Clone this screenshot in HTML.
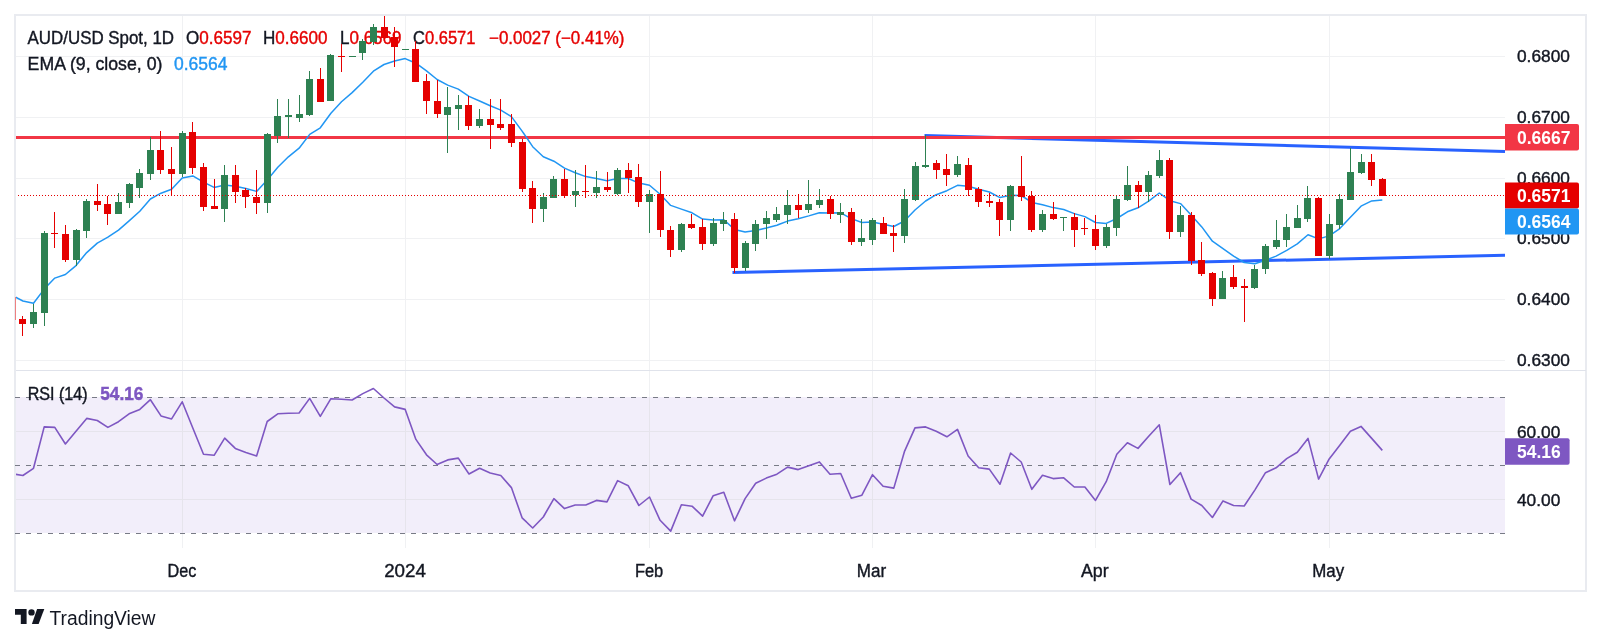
<!DOCTYPE html><html><head><meta charset="utf-8"><style>html,body{margin:0;padding:0;background:#fff;width:1601px;height:644px;overflow:hidden}svg{display:block}text{font-family:"Liberation Sans",sans-serif}svg text{will-change:opacity}</style></head><body>
<svg width="1601" height="644" viewBox="0 0 1601 644">
<rect x="0" y="0" width="1601" height="644" fill="#ffffff"/>
<rect x="15" y="15" width="1571" height="576" fill="none" stroke="#e9ebf0" stroke-width="2"/>
<rect x="16" y="370" width="1570" height="1" fill="#e0e3eb"/>
<g shape-rendering="crispEdges">
<rect x="16" y="56" width="1489" height="1" fill="#f0f1f3"/>
<rect x="16" y="117" width="1489" height="1" fill="#f0f1f3"/>
<rect x="16" y="178" width="1489" height="1" fill="#f0f1f3"/>
<rect x="16" y="238" width="1489" height="1" fill="#f0f1f3"/>
<rect x="16" y="299" width="1489" height="1" fill="#f0f1f3"/>
<rect x="16" y="360" width="1489" height="1" fill="#f0f1f3"/>
<rect x="182" y="16" width="1" height="354" fill="#f0f1f3"/>
<rect x="182" y="371" width="1" height="177" fill="#f0f1f3"/>
<rect x="405" y="16" width="1" height="354" fill="#f0f1f3"/>
<rect x="405" y="371" width="1" height="177" fill="#f0f1f3"/>
<rect x="649" y="16" width="1" height="354" fill="#f0f1f3"/>
<rect x="649" y="371" width="1" height="177" fill="#f0f1f3"/>
<rect x="872" y="16" width="1" height="354" fill="#f0f1f3"/>
<rect x="872" y="371" width="1" height="177" fill="#f0f1f3"/>
<rect x="1095" y="16" width="1" height="354" fill="#f0f1f3"/>
<rect x="1095" y="371" width="1" height="177" fill="#f0f1f3"/>
<rect x="1329" y="16" width="1" height="354" fill="#f0f1f3"/>
<rect x="1329" y="371" width="1" height="177" fill="#f0f1f3"/>
</g>
<rect x="16" y="397" width="1489" height="136" fill="#f2eefa"/>
<g shape-rendering="crispEdges">
<rect x="16" y="431" width="1489" height="1" fill="#e6e4ec"/>
<rect x="16" y="499" width="1489" height="1" fill="#e6e4ec"/>
<rect x="182" y="397" width="1" height="136" fill="#e6e4ec"/>
<rect x="405" y="397" width="1" height="136" fill="#e6e4ec"/>
<rect x="649" y="397" width="1" height="136" fill="#e6e4ec"/>
<rect x="872" y="397" width="1" height="136" fill="#e6e4ec"/>
<rect x="1095" y="397" width="1" height="136" fill="#e6e4ec"/>
<rect x="1329" y="397" width="1" height="136" fill="#e6e4ec"/>
</g>
<line x1="15" y1="397.5" x2="1505" y2="397.5" stroke="#787b86" stroke-width="1" stroke-dasharray="5 6" shape-rendering="crispEdges"/>
<line x1="15" y1="465.5" x2="1505" y2="465.5" stroke="#787b86" stroke-width="1" stroke-dasharray="5 6" shape-rendering="crispEdges"/>
<line x1="15" y1="533.5" x2="1505" y2="533.5" stroke="#787b86" stroke-width="1" stroke-dasharray="5 6" shape-rendering="crispEdges"/>
<g font-size="18">
<text x="27.6" y="43.6" fill="#131722" stroke="#131722" stroke-width="0.4" textLength="146.4" lengthAdjust="spacingAndGlyphs" >AUD/USD Spot, 1D</text>
<text x="186" y="43.6" fill="#131722" stroke="#131722" stroke-width="0.4" textLength="65.5" lengthAdjust="spacingAndGlyphs" >O<tspan fill="#e50000" stroke="#e50000">0.6597</tspan></text>
<text x="263" y="43.6" fill="#131722" stroke="#131722" stroke-width="0.4" textLength="64.5" lengthAdjust="spacingAndGlyphs" >H<tspan fill="#e50000" stroke="#e50000">0.6600</tspan></text>
<text x="340" y="43.6" fill="#131722" stroke="#131722" stroke-width="0.4" textLength="61.5" lengthAdjust="spacingAndGlyphs" >L<tspan fill="#e50000" stroke="#e50000">0.6569</tspan></text>
<text x="413" y="43.6" fill="#131722" stroke="#131722" stroke-width="0.4" textLength="62.5" lengthAdjust="spacingAndGlyphs" >C<tspan fill="#e50000" stroke="#e50000">0.6571</tspan></text>
<text x="489" y="43.6" fill="#e50000" stroke="#e50000" stroke-width="0.4" textLength="135.5" lengthAdjust="spacingAndGlyphs" >−0.0027 (−0.41%)</text>
<text x="27.6" y="69.6" fill="#131722" stroke="#131722" stroke-width="0.4" textLength="134.8" lengthAdjust="spacingAndGlyphs" >EMA (9, close, 0)</text>
<text x="174" y="69.6" fill="#2196f3" stroke="#2196f3" stroke-width="0.4" textLength="53.5" lengthAdjust="spacingAndGlyphs" >0.6564</text>
<text x="27.7" y="400" fill="#131722" stroke="#131722" stroke-width="0.4" textLength="59.8" lengthAdjust="spacingAndGlyphs" >RSI (14)</text>
<text x="100.2" y="400" fill="#7e57c2" stroke="#7e57c2" stroke-width="0.4" textLength="43.3" lengthAdjust="spacingAndGlyphs" font-weight="bold">54.16</text>
</g>
<defs><clipPath id="pp"><rect x="16" y="16" width="1489" height="354"/></clipPath><clipPath id="rp"><rect x="16" y="371" width="1489" height="177"/></clipPath></defs>
<g clip-path="url(#pp)">
<rect x="16" y="136" width="1489" height="3" fill="#f23645"/>
<line x1="924.5" y1="135.5" x2="1505" y2="151.5" stroke="#2962ff" stroke-width="3"/>
<line x1="732.5" y1="272.5" x2="1505" y2="255.2" stroke="#2962ff" stroke-width="3"/>
<rect x="16" y="136" width="1489" height="3" fill="#f23645"/>
<polyline fill="none" stroke="#2196f3" stroke-width="1.5" stroke-linejoin="round" points="12.3,295.4 22.9,301.0 33.5,303.2 44.2,289.1 54.8,278.1 65.4,274.5 76.0,265.6 86.7,252.6 97.3,243.1 107.9,237.2 118.5,230.1 129.1,220.9 139.8,211.3 150.4,199.0 161.0,193.2 171.6,189.3 182.2,178.0 192.8,175.9 203.5,182.1 214.1,187.4 224.7,184.9 235.3,186.2 245.9,188.5 256.6,191.4 267.2,180.0 277.8,167.2 288.4,156.8 299.1,148.2 309.7,134.4 320.3,127.8 330.9,113.2 341.5,101.8 352.1,92.6 362.8,82.3 373.4,71.2 384.0,64.5 394.6,61.0 405.2,58.6 415.9,63.2 426.5,70.9 437.1,79.5 447.7,85.1 458.3,89.1 469.0,96.4 479.6,101.0 490.2,105.7 500.8,110.1 511.4,116.6 522.1,131.1 532.7,146.7 543.3,156.8 553.9,161.2 564.5,168.1 575.2,172.7 585.8,176.6 596.4,178.6 607.0,180.8 617.6,178.6 628.3,178.5 638.9,183.1 649.5,185.3 660.1,194.3 670.7,205.4 681.4,209.1 692.0,212.8 702.6,219.1 713.2,219.9 723.8,219.8 734.5,229.4 745.1,232.1 755.7,230.5 766.3,228.0 776.9,225.2 787.6,221.1 798.2,218.8 808.8,215.9 819.4,212.7 830.0,213.0 840.7,212.8 851.3,218.6 861.9,222.5 872.5,222.0 883.1,224.3 893.8,226.5 904.4,221.0 915.0,210.0 925.6,201.0 936.2,194.7 946.9,190.7 957.5,185.3 968.1,186.3 978.7,189.3 989.3,192.0 1000.0,197.6 1010.6,195.3 1021.2,195.5 1031.8,202.4 1042.5,204.7 1053.1,207.6 1063.7,209.5 1074.3,213.6 1084.9,216.6 1095.5,222.5 1106.2,223.4 1116.8,218.5 1127.4,211.8 1138.0,207.8 1148.7,201.2 1159.3,193.0 1169.9,200.7 1180.5,203.6 1191.1,215.1 1201.8,226.9 1212.4,241.2 1223.0,248.6 1233.6,256.2 1244.2,262.5 1254.8,263.8 1265.5,260.2 1276.1,256.1 1286.7,250.3 1297.3,243.9 1308.0,234.7 1318.6,238.9 1329.2,235.9 1339.8,228.6 1350.4,217.3 1361.0,206.2 1371.7,200.9 1382.3,199.9"/>
<g shape-rendering="crispEdges">
<rect x="22" y="316" width="1" height="20" fill="#e50000"/>
<rect x="19" y="319" width="7" height="5" fill="#e50000"/>
<rect x="33" y="304" width="1" height="24" fill="#2e8152"/>
<rect x="30" y="312" width="7" height="12" fill="#2e8152"/>
<rect x="44" y="231" width="1" height="95" fill="#2e8152"/>
<rect x="41" y="233" width="7" height="80" fill="#2e8152"/>
<rect x="54" y="212" width="1" height="36" fill="#e50000"/>
<rect x="51" y="233" width="7" height="1" fill="#e50000"/>
<rect x="65" y="225" width="1" height="37" fill="#e50000"/>
<rect x="62" y="234" width="7" height="26" fill="#e50000"/>
<rect x="76" y="229" width="1" height="37" fill="#2e8152"/>
<rect x="73" y="230" width="7" height="30" fill="#2e8152"/>
<rect x="86" y="199" width="1" height="39" fill="#2e8152"/>
<rect x="83" y="201" width="7" height="30" fill="#2e8152"/>
<rect x="97" y="184" width="1" height="27" fill="#e50000"/>
<rect x="94" y="201" width="7" height="4" fill="#e50000"/>
<rect x="107" y="196" width="1" height="29" fill="#e50000"/>
<rect x="104" y="204" width="7" height="10" fill="#e50000"/>
<rect x="118" y="193" width="1" height="21" fill="#2e8152"/>
<rect x="115" y="202" width="7" height="12" fill="#2e8152"/>
<rect x="129" y="183" width="1" height="25" fill="#2e8152"/>
<rect x="126" y="184" width="7" height="19" fill="#2e8152"/>
<rect x="139" y="169" width="1" height="29" fill="#2e8152"/>
<rect x="136" y="173" width="7" height="15" fill="#2e8152"/>
<rect x="150" y="137" width="1" height="43" fill="#2e8152"/>
<rect x="147" y="150" width="7" height="24" fill="#2e8152"/>
<rect x="160" y="131" width="1" height="43" fill="#e50000"/>
<rect x="157" y="150" width="7" height="20" fill="#e50000"/>
<rect x="171" y="147" width="1" height="48" fill="#e50000"/>
<rect x="168" y="169" width="7" height="5" fill="#e50000"/>
<rect x="182" y="131" width="1" height="46" fill="#2e8152"/>
<rect x="179" y="133" width="7" height="41" fill="#2e8152"/>
<rect x="192" y="122" width="1" height="52" fill="#e50000"/>
<rect x="189" y="132" width="7" height="36" fill="#e50000"/>
<rect x="203" y="163" width="1" height="48" fill="#e50000"/>
<rect x="200" y="167" width="7" height="40" fill="#e50000"/>
<rect x="214" y="179" width="1" height="30" fill="#e50000"/>
<rect x="211" y="206" width="7" height="3" fill="#e50000"/>
<rect x="224" y="165" width="1" height="57" fill="#2e8152"/>
<rect x="221" y="175" width="7" height="34" fill="#2e8152"/>
<rect x="235" y="165" width="1" height="38" fill="#e50000"/>
<rect x="232" y="175" width="7" height="17" fill="#e50000"/>
<rect x="245" y="188" width="1" height="20" fill="#e50000"/>
<rect x="242" y="190" width="7" height="7" fill="#e50000"/>
<rect x="256" y="170" width="1" height="44" fill="#e50000"/>
<rect x="253" y="197" width="7" height="6" fill="#e50000"/>
<rect x="267" y="133" width="1" height="80" fill="#2e8152"/>
<rect x="264" y="134" width="7" height="69" fill="#2e8152"/>
<rect x="277" y="99" width="1" height="44" fill="#2e8152"/>
<rect x="274" y="116" width="7" height="20" fill="#2e8152"/>
<rect x="288" y="99" width="1" height="39" fill="#2e8152"/>
<rect x="285" y="115" width="7" height="2" fill="#2e8152"/>
<rect x="299" y="95" width="1" height="27" fill="#2e8152"/>
<rect x="296" y="114" width="7" height="4" fill="#2e8152"/>
<rect x="309" y="71" width="1" height="45" fill="#2e8152"/>
<rect x="306" y="79" width="7" height="36" fill="#2e8152"/>
<rect x="320" y="68" width="1" height="34" fill="#e50000"/>
<rect x="317" y="79" width="7" height="23" fill="#e50000"/>
<rect x="330" y="54" width="1" height="47" fill="#2e8152"/>
<rect x="327" y="55" width="7" height="46" fill="#2e8152"/>
<rect x="341" y="44" width="1" height="28" fill="#e50000"/>
<rect x="338" y="56" width="7" height="1" fill="#e50000"/>
<rect x="352" y="56" width="1" height="1" fill="#2e8152"/>
<rect x="349" y="56" width="7" height="1" fill="#2e8152"/>
<rect x="362" y="39" width="1" height="21" fill="#2e8152"/>
<rect x="359" y="41" width="7" height="12" fill="#2e8152"/>
<rect x="373" y="24" width="1" height="21" fill="#2e8152"/>
<rect x="370" y="27" width="7" height="15" fill="#2e8152"/>
<rect x="384" y="15" width="1" height="26" fill="#e50000"/>
<rect x="381" y="27" width="7" height="11" fill="#e50000"/>
<rect x="394" y="27" width="1" height="40" fill="#e50000"/>
<rect x="391" y="37" width="7" height="10" fill="#e50000"/>
<rect x="405" y="49" width="1" height="1" fill="#2e8152"/>
<rect x="402" y="49" width="7" height="1" fill="#2e8152"/>
<rect x="415" y="41" width="1" height="41" fill="#e50000"/>
<rect x="412" y="49" width="7" height="33" fill="#e50000"/>
<rect x="426" y="74" width="1" height="40" fill="#e50000"/>
<rect x="423" y="81" width="7" height="20" fill="#e50000"/>
<rect x="437" y="80" width="1" height="38" fill="#e50000"/>
<rect x="434" y="101" width="7" height="13" fill="#e50000"/>
<rect x="447" y="87" width="1" height="66" fill="#2e8152"/>
<rect x="444" y="107" width="7" height="8" fill="#2e8152"/>
<rect x="458" y="95" width="1" height="35" fill="#2e8152"/>
<rect x="455" y="105" width="7" height="4" fill="#2e8152"/>
<rect x="468" y="96" width="1" height="34" fill="#e50000"/>
<rect x="465" y="105" width="7" height="21" fill="#e50000"/>
<rect x="479" y="109" width="1" height="19" fill="#2e8152"/>
<rect x="476" y="119" width="7" height="7" fill="#2e8152"/>
<rect x="490" y="99" width="1" height="50" fill="#e50000"/>
<rect x="487" y="119" width="7" height="6" fill="#e50000"/>
<rect x="500" y="99" width="1" height="31" fill="#e50000"/>
<rect x="497" y="124" width="7" height="4" fill="#e50000"/>
<rect x="511" y="114" width="1" height="33" fill="#e50000"/>
<rect x="508" y="124" width="7" height="19" fill="#e50000"/>
<rect x="522" y="139" width="1" height="53" fill="#e50000"/>
<rect x="519" y="142" width="7" height="47" fill="#e50000"/>
<rect x="532" y="181" width="1" height="42" fill="#e50000"/>
<rect x="529" y="188" width="7" height="21" fill="#e50000"/>
<rect x="543" y="193" width="1" height="29" fill="#2e8152"/>
<rect x="540" y="197" width="7" height="12" fill="#2e8152"/>
<rect x="553" y="176" width="1" height="22" fill="#2e8152"/>
<rect x="550" y="179" width="7" height="19" fill="#2e8152"/>
<rect x="564" y="169" width="1" height="29" fill="#e50000"/>
<rect x="561" y="179" width="7" height="17" fill="#e50000"/>
<rect x="575" y="170" width="1" height="37" fill="#2e8152"/>
<rect x="572" y="191" width="7" height="4" fill="#2e8152"/>
<rect x="585" y="165" width="1" height="33" fill="#e50000"/>
<rect x="582" y="191" width="7" height="1" fill="#e50000"/>
<rect x="596" y="171" width="1" height="27" fill="#2e8152"/>
<rect x="593" y="187" width="7" height="6" fill="#2e8152"/>
<rect x="607" y="172" width="1" height="20" fill="#e50000"/>
<rect x="604" y="187" width="7" height="3" fill="#e50000"/>
<rect x="617" y="168" width="1" height="27" fill="#2e8152"/>
<rect x="614" y="170" width="7" height="24" fill="#2e8152"/>
<rect x="628" y="163" width="1" height="30" fill="#e50000"/>
<rect x="625" y="170" width="7" height="8" fill="#e50000"/>
<rect x="638" y="164" width="1" height="43" fill="#e50000"/>
<rect x="635" y="177" width="7" height="25" fill="#e50000"/>
<rect x="649" y="190" width="1" height="43" fill="#2e8152"/>
<rect x="646" y="194" width="7" height="8" fill="#2e8152"/>
<rect x="660" y="171" width="1" height="66" fill="#e50000"/>
<rect x="657" y="194" width="7" height="36" fill="#e50000"/>
<rect x="670" y="226" width="1" height="31" fill="#e50000"/>
<rect x="667" y="230" width="7" height="20" fill="#e50000"/>
<rect x="681" y="223" width="1" height="29" fill="#2e8152"/>
<rect x="678" y="224" width="7" height="26" fill="#2e8152"/>
<rect x="691" y="214" width="1" height="15" fill="#e50000"/>
<rect x="688" y="224" width="7" height="4" fill="#e50000"/>
<rect x="702" y="219" width="1" height="31" fill="#e50000"/>
<rect x="699" y="227" width="7" height="17" fill="#e50000"/>
<rect x="713" y="218" width="1" height="28" fill="#2e8152"/>
<rect x="710" y="223" width="7" height="21" fill="#2e8152"/>
<rect x="723" y="212" width="1" height="19" fill="#2e8152"/>
<rect x="720" y="220" width="7" height="4" fill="#2e8152"/>
<rect x="734" y="213" width="1" height="60" fill="#e50000"/>
<rect x="731" y="219" width="7" height="49" fill="#e50000"/>
<rect x="745" y="241" width="1" height="30" fill="#2e8152"/>
<rect x="742" y="243" width="7" height="25" fill="#2e8152"/>
<rect x="755" y="220" width="1" height="31" fill="#2e8152"/>
<rect x="752" y="224" width="7" height="20" fill="#2e8152"/>
<rect x="766" y="211" width="1" height="28" fill="#2e8152"/>
<rect x="763" y="218" width="7" height="6" fill="#2e8152"/>
<rect x="776" y="207" width="1" height="15" fill="#2e8152"/>
<rect x="773" y="214" width="7" height="6" fill="#2e8152"/>
<rect x="787" y="190" width="1" height="34" fill="#2e8152"/>
<rect x="784" y="205" width="7" height="10" fill="#2e8152"/>
<rect x="798" y="194" width="1" height="24" fill="#e50000"/>
<rect x="795" y="205" width="7" height="5" fill="#e50000"/>
<rect x="808" y="180" width="1" height="33" fill="#2e8152"/>
<rect x="805" y="204" width="7" height="6" fill="#2e8152"/>
<rect x="819" y="189" width="1" height="19" fill="#2e8152"/>
<rect x="816" y="200" width="7" height="5" fill="#2e8152"/>
<rect x="830" y="196" width="1" height="23" fill="#e50000"/>
<rect x="827" y="199" width="7" height="15" fill="#e50000"/>
<rect x="840" y="203" width="1" height="20" fill="#2e8152"/>
<rect x="837" y="212" width="7" height="3" fill="#2e8152"/>
<rect x="851" y="208" width="1" height="37" fill="#e50000"/>
<rect x="848" y="212" width="7" height="30" fill="#e50000"/>
<rect x="861" y="219" width="1" height="27" fill="#2e8152"/>
<rect x="858" y="238" width="7" height="4" fill="#2e8152"/>
<rect x="872" y="218" width="1" height="27" fill="#2e8152"/>
<rect x="869" y="220" width="7" height="20" fill="#2e8152"/>
<rect x="883" y="217" width="1" height="17" fill="#e50000"/>
<rect x="880" y="223" width="7" height="11" fill="#e50000"/>
<rect x="893" y="225" width="1" height="27" fill="#e50000"/>
<rect x="890" y="233" width="7" height="3" fill="#e50000"/>
<rect x="904" y="189" width="1" height="54" fill="#2e8152"/>
<rect x="901" y="199" width="7" height="37" fill="#2e8152"/>
<rect x="915" y="162" width="1" height="39" fill="#2e8152"/>
<rect x="912" y="166" width="7" height="34" fill="#2e8152"/>
<rect x="925" y="135" width="1" height="33" fill="#2e8152"/>
<rect x="922" y="165" width="7" height="2" fill="#2e8152"/>
<rect x="936" y="160" width="1" height="19" fill="#e50000"/>
<rect x="933" y="163" width="7" height="7" fill="#e50000"/>
<rect x="946" y="154" width="1" height="32" fill="#e50000"/>
<rect x="943" y="169" width="7" height="6" fill="#e50000"/>
<rect x="957" y="156" width="1" height="21" fill="#2e8152"/>
<rect x="954" y="164" width="7" height="11" fill="#2e8152"/>
<rect x="968" y="158" width="1" height="38" fill="#e50000"/>
<rect x="965" y="165" width="7" height="25" fill="#e50000"/>
<rect x="978" y="187" width="1" height="20" fill="#e50000"/>
<rect x="975" y="189" width="7" height="13" fill="#e50000"/>
<rect x="989" y="193" width="1" height="14" fill="#e50000"/>
<rect x="986" y="201" width="7" height="2" fill="#e50000"/>
<rect x="999" y="199" width="1" height="37" fill="#e50000"/>
<rect x="996" y="202" width="7" height="18" fill="#e50000"/>
<rect x="1010" y="185" width="1" height="46" fill="#2e8152"/>
<rect x="1007" y="186" width="7" height="34" fill="#2e8152"/>
<rect x="1021" y="156" width="1" height="45" fill="#e50000"/>
<rect x="1018" y="186" width="7" height="11" fill="#e50000"/>
<rect x="1031" y="191" width="1" height="41" fill="#e50000"/>
<rect x="1028" y="196" width="7" height="34" fill="#e50000"/>
<rect x="1042" y="210" width="1" height="22" fill="#2e8152"/>
<rect x="1039" y="214" width="7" height="16" fill="#2e8152"/>
<rect x="1053" y="202" width="1" height="18" fill="#e50000"/>
<rect x="1050" y="214" width="7" height="5" fill="#e50000"/>
<rect x="1063" y="217" width="1" height="14" fill="#2e8152"/>
<rect x="1060" y="217" width="7" height="1" fill="#2e8152"/>
<rect x="1074" y="213" width="1" height="34" fill="#e50000"/>
<rect x="1071" y="217" width="7" height="13" fill="#e50000"/>
<rect x="1084" y="218" width="1" height="17" fill="#e50000"/>
<rect x="1081" y="228" width="7" height="1" fill="#e50000"/>
<rect x="1095" y="215" width="1" height="35" fill="#e50000"/>
<rect x="1092" y="229" width="7" height="17" fill="#e50000"/>
<rect x="1106" y="224" width="1" height="24" fill="#2e8152"/>
<rect x="1103" y="227" width="7" height="19" fill="#2e8152"/>
<rect x="1116" y="196" width="1" height="40" fill="#2e8152"/>
<rect x="1113" y="199" width="7" height="29" fill="#2e8152"/>
<rect x="1127" y="166" width="1" height="35" fill="#2e8152"/>
<rect x="1124" y="185" width="7" height="15" fill="#2e8152"/>
<rect x="1138" y="181" width="1" height="27" fill="#e50000"/>
<rect x="1135" y="185" width="7" height="7" fill="#e50000"/>
<rect x="1148" y="171" width="1" height="31" fill="#2e8152"/>
<rect x="1145" y="175" width="7" height="17" fill="#2e8152"/>
<rect x="1159" y="150" width="1" height="28" fill="#2e8152"/>
<rect x="1156" y="160" width="7" height="16" fill="#2e8152"/>
<rect x="1169" y="158" width="1" height="81" fill="#e50000"/>
<rect x="1166" y="160" width="7" height="72" fill="#e50000"/>
<rect x="1180" y="206" width="1" height="31" fill="#2e8152"/>
<rect x="1177" y="215" width="7" height="17" fill="#2e8152"/>
<rect x="1191" y="212" width="1" height="53" fill="#e50000"/>
<rect x="1188" y="215" width="7" height="46" fill="#e50000"/>
<rect x="1201" y="242" width="1" height="34" fill="#e50000"/>
<rect x="1198" y="260" width="7" height="14" fill="#e50000"/>
<rect x="1212" y="272" width="1" height="34" fill="#e50000"/>
<rect x="1209" y="273" width="7" height="26" fill="#e50000"/>
<rect x="1222" y="271" width="1" height="28" fill="#2e8152"/>
<rect x="1219" y="278" width="7" height="21" fill="#2e8152"/>
<rect x="1233" y="265" width="1" height="24" fill="#e50000"/>
<rect x="1230" y="277" width="7" height="10" fill="#e50000"/>
<rect x="1244" y="279" width="1" height="43" fill="#e50000"/>
<rect x="1241" y="286" width="7" height="2" fill="#e50000"/>
<rect x="1254" y="265" width="1" height="24" fill="#2e8152"/>
<rect x="1251" y="269" width="7" height="19" fill="#2e8152"/>
<rect x="1265" y="244" width="1" height="30" fill="#2e8152"/>
<rect x="1262" y="246" width="7" height="23" fill="#2e8152"/>
<rect x="1276" y="220" width="1" height="29" fill="#2e8152"/>
<rect x="1273" y="240" width="7" height="7" fill="#2e8152"/>
<rect x="1286" y="214" width="1" height="33" fill="#2e8152"/>
<rect x="1283" y="227" width="7" height="13" fill="#2e8152"/>
<rect x="1297" y="205" width="1" height="23" fill="#2e8152"/>
<rect x="1294" y="218" width="7" height="10" fill="#2e8152"/>
<rect x="1307" y="186" width="1" height="36" fill="#2e8152"/>
<rect x="1304" y="198" width="7" height="21" fill="#2e8152"/>
<rect x="1318" y="197" width="1" height="59" fill="#e50000"/>
<rect x="1315" y="198" width="7" height="58" fill="#e50000"/>
<rect x="1329" y="214" width="1" height="45" fill="#2e8152"/>
<rect x="1326" y="224" width="7" height="32" fill="#2e8152"/>
<rect x="1339" y="194" width="1" height="35" fill="#2e8152"/>
<rect x="1336" y="199" width="7" height="26" fill="#2e8152"/>
<rect x="1350" y="148" width="1" height="52" fill="#2e8152"/>
<rect x="1347" y="172" width="7" height="28" fill="#2e8152"/>
<rect x="1361" y="154" width="1" height="20" fill="#2e8152"/>
<rect x="1358" y="162" width="7" height="11" fill="#2e8152"/>
<rect x="1371" y="154" width="1" height="32" fill="#e50000"/>
<rect x="1368" y="162" width="7" height="18" fill="#e50000"/>
<rect x="1382" y="178" width="1" height="18" fill="#e50000"/>
<rect x="1379" y="179" width="7" height="17" fill="#e50000"/>
</g>
<line x1="15" y1="195.5" x2="1505" y2="195.5" stroke="#e50000" stroke-width="1" stroke-dasharray="1 2" shape-rendering="crispEdges"/>
</g>
<rect x="15" y="297" width="1" height="23" fill="#ee8080"/>
<g clip-path="url(#rp)"><polyline fill="none" stroke="#7e57c2" stroke-width="1.6" stroke-linejoin="round" points="15.0,474.2 22.9,475.5 33.5,468.3 44.2,426.9 54.8,427.4 65.4,444.0 76.0,431.2 86.7,418.4 97.3,420.5 107.9,427.4 118.5,421.7 129.1,413.8 139.8,409.4 150.4,399.7 161.0,415.9 171.6,418.9 182.2,401.8 192.8,428.0 203.5,454.3 214.1,455.3 224.7,438.1 235.3,448.4 245.9,452.5 256.6,456.0 267.2,421.5 277.8,413.8 288.4,413.3 299.1,413.0 309.7,398.4 320.3,416.4 330.9,398.7 341.5,399.2 352.1,400.0 362.8,393.6 373.4,388.5 384.0,398.0 394.6,406.9 405.2,409.4 415.9,439.4 426.5,454.8 437.1,464.5 447.7,459.9 458.3,458.1 469.0,474.0 479.6,468.3 490.2,473.0 500.8,475.5 511.4,487.6 522.1,517.8 532.7,528.0 543.3,517.0 553.9,498.6 564.5,508.6 575.2,505.0 585.8,505.0 596.4,500.4 607.0,501.9 617.6,480.6 628.3,485.8 638.9,505.5 649.5,497.0 660.1,520.3 670.7,531.1 681.4,504.7 692.0,506.2 702.6,516.2 713.2,495.7 723.8,492.2 734.5,520.8 745.1,498.6 755.7,483.2 766.3,478.1 776.9,474.2 787.6,467.1 798.2,469.6 808.8,465.8 819.4,461.9 830.0,474.2 840.7,473.5 851.3,498.3 861.9,495.2 872.5,474.7 883.1,486.3 893.8,488.1 904.4,451.7 915.0,427.9 925.6,426.9 936.2,431.2 946.9,436.8 957.5,429.4 968.1,456.0 978.7,467.8 989.3,469.1 1000.0,484.2 1010.6,453.0 1021.2,462.0 1031.8,489.3 1042.5,475.3 1053.1,478.6 1063.7,477.8 1074.3,487.0 1084.9,487.0 1095.5,500.4 1106.2,481.7 1116.8,454.3 1127.4,442.7 1138.0,448.4 1148.7,436.3 1159.3,424.8 1169.9,484.5 1180.5,472.7 1191.1,499.1 1201.8,505.5 1212.4,517.5 1223.0,500.9 1233.6,505.5 1244.2,506.0 1254.8,490.1 1265.5,472.7 1276.1,467.8 1286.7,458.6 1297.3,452.2 1308.0,438.4 1318.6,479.1 1329.2,458.9 1339.8,445.3 1350.4,431.2 1361.0,426.4 1371.7,438.4 1382.3,450.4"/></g>
<g font-size="17.3" fill="#131722" stroke="#131722" stroke-width="0.4">
<text x="1517" y="62">0.6800</text>
<text x="1517" y="123">0.6700</text>
<text x="1517" y="184">0.6600</text>
<text x="1517" y="244">0.6500</text>
<text x="1517" y="305">0.6400</text>
<text x="1517" y="366">0.6300</text>
<text x="1517" y="437.6">60.00</text>
<text x="1517" y="506">40.00</text>
</g>
<path d="M1505 124 H1577 Q1579 124 1579 126 V148.5 Q1579 150.5 1577 150.5 H1505 Z" fill="#f23645"/>
<text x="1517" y="143.6" font-size="17.5" font-weight="bold" fill="#fff">0.6667</text>
<path d="M1505 182.4 H1577 Q1579 182.4 1579 184.4 V206.5 Q1579 208.5 1577 208.5 H1505 Z" fill="#e50000"/>
<text x="1517" y="201.8" font-size="17.5" font-weight="bold" fill="#fff">0.6571</text>
<path d="M1505 208.5 H1577 Q1579 208.5 1579 210.5 V232.6 Q1579 234.6 1577 234.6 H1505 Z" fill="#2196f3"/>
<text x="1517" y="227.9" font-size="17.5" font-weight="bold" fill="#fff">0.6564</text>
<path d="M1505 438.3 H1567.6 Q1569.6 438.3 1569.6 440.3 V462.7 Q1569.6 464.7 1567.6 464.7 H1505 Z" fill="#7e57c2"/>
<text x="1517" y="457.8" font-size="17.5" font-weight="bold" fill="#fff">54.16</text>
<g font-size="18" fill="#131722" stroke="#131722" stroke-width="0.4" text-anchor="middle">
<text x="181.9" y="577" textLength="28.8" lengthAdjust="spacingAndGlyphs">Dec</text>
<text x="405" y="577" textLength="41.7" lengthAdjust="spacingAndGlyphs">2024</text>
<text x="649.1" y="577" textLength="28.4" lengthAdjust="spacingAndGlyphs">Feb</text>
<text x="871.5" y="577" textLength="29.3" lengthAdjust="spacingAndGlyphs">Mar</text>
<text x="1094.8" y="577" textLength="27.7" lengthAdjust="spacingAndGlyphs">Apr</text>
<text x="1328.2" y="577" textLength="31.9" lengthAdjust="spacingAndGlyphs">May</text>
</g>
<g fill="#131722">
<path d="M15 609 H26.6 V624 H20.8 V614.8 H15 Z"/>
<circle cx="31.5" cy="612.4" r="3.2"/>
<path d="M37.1 609 H44.3 L38.6 624 H31.9 Z"/>
<text x="49.5" y="624.8" font-size="19.5" textLength="106" lengthAdjust="spacingAndGlyphs">TradingView</text>
</g>
</svg></body></html>
